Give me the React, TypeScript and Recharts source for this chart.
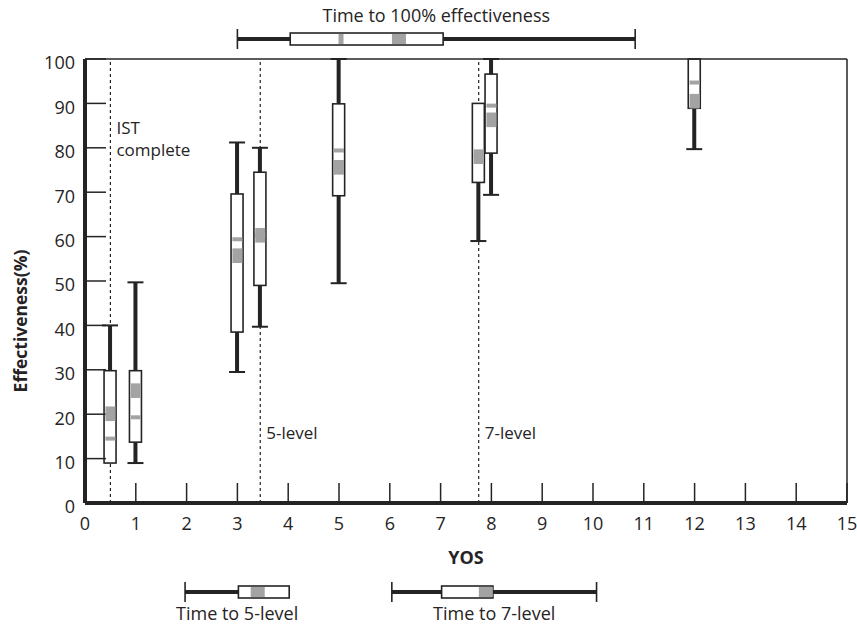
import React from 'react';
import * as R from 'recharts';

const { ComposedChart, XAxis, YAxis, Bar, Scatter, ReferenceLine, Label } = R as any;

const INK = '#262324';
const GREY = '#a3a3a3';
const FONT = '"Open Sans", "Noto Sans", sans-serif';

// axis ticks
const xTicks = [0, 1, 2, 3, 4, 5, 6, 7, 8, 9, 10, 11, 12, 13, 14, 15];
const yTicks = [0, 10, 20, 30, 40, 50, 60, 70, 80, 90, 100];

// vertical box plots (effectiveness by YOS)
const boxPositions = [0.5, 1, 3, 3.45, 5, 7.75, 8, 12];
const whiskerLow = [9, 9, 29.5, 39.7, 49.5, 59, 69.4, 79.7];
const boxLow = [9, 13.7, 38.5, 49, 69.2, 72.2, 78.8, 88.9];
const boxHigh = [29.8, 29.8, 69.6, 74.5, 89.9, 90, 96.6, 100];
const whiskerHigh = [40, 49.7, 81.2, 80, 100, 90, 100, 100];
const thinMark = [14.5, 19.3, 59.4, 60.3, 79.4, 78, 89.5, 94.7];
const thickMark = [20.1, 25.3, 55.7, 60.3, 75.6, 78, 86.3, 90.5];

// milestone reference lines
const milestoneX = [0.5, 3.45, 7.75];
const milestoneText = [['IST', 'complete'], ['5-level'], ['7-level']];

// horizontal "time to" box plots
const rowNames = ['Time to 100% effectiveness', 'Time to 5-level', 'Time to 7-level'];
const rowSide = ['top', 'bottom', 'bottom'];
const rowMin = [3.0, 1.97, 6.04];
const rowQ1 = [4.04, 3.02, 7.02];
const rowQ3 = [7.05, 4.02, 8.03];
const rowMax = [10.83, 4.02, 10.07];
const rowThin = [5.04, null, null];
const rowThick = [6.18, 3.4, 7.89];

const boxData = boxPositions.map((x, i) => ({
  x,
  whiskerLow: whiskerLow[i],
  boxLow: boxLow[i],
  boxHigh: boxHigh[i],
  whiskerHigh: whiskerHigh[i],
  thinMark: thinMark[i],
  thickMark: thickMark[i],
}));

const rows = rowNames.map((name, i) => ({
  name,
  side: rowSide[i],
  min: rowMin[i],
  q1: rowQ1[i],
  q3: rowQ3[i],
  max: rowMax[i],
  thin: rowThin[i],
  thick: rowThick[i],
}));

const WhiskerShape = (p: any) => {
  const { x, y, width, height, payload } = p;
  if (x == null || y == null) return null;
  const top = Math.min(y, y + height);
  const bot = Math.max(y, y + height);
  const cx = x + width / 2;
  return (
    <g>
      <rect x={cx - 2} y={top} width={4} height={bot - top} fill={INK} />
      {payload.whiskerHigh > payload.boxHigh && (
        <line x1={cx - 8} x2={cx + 8} y1={top} y2={top} stroke={INK} strokeWidth={2} />
      )}
      {payload.whiskerLow < payload.boxLow && (
        <line x1={cx - 8} x2={cx + 8} y1={bot} y2={bot} stroke={INK} strokeWidth={2} />
      )}
    </g>
  );
};

const BoxShape = (p: any) => {
  const { x, y, width, height } = p;
  if (x == null || y == null) return null;
  const top = Math.min(y, y + height);
  const bot = Math.max(y, y + height);
  return <rect x={x} y={top} width={width} height={bot - top} fill="#fff" stroke={INK} strokeWidth={1.6} />;
};

const ThickShape = (p: any) => {
  const { cx, cy } = p;
  if (cx == null || cy == null) return null;
  return <rect x={cx - 5} y={cy - 7.3} width={10} height={14.6} fill={GREY} />;
};

const ThinShape = (p: any) => {
  const { cx, cy } = p;
  if (cx == null || cy == null) return null;
  return <rect x={cx - 5} y={cy - 2} width={10} height={4} fill={GREY} />;
};

const XTick = (p: any) => (
  <text x={p.x} y={p.y} dy="0.71em" textAnchor="middle" fontSize={18} fill={INK} fontFamily={FONT}>
    {p.payload.value}
  </text>
);

const YTick = (p: any) => (
  <text x={p.x} y={p.y + 4} dy="0.35em" textAnchor="end" fontSize={18} fill={INK} fontFamily={FONT}>
    {p.payload.value}
  </text>
);

const makeMilestoneLabel = (lines: string[], atTop: boolean) => (props: any) => {
  const vb = props.viewBox || {};
  const x = (vb.x ?? 0) + 6;
  const y0 = atTop ? (vb.y ?? 0) + 75 : (vb.y ?? 0) + (vb.height ?? 0) - 64;
  return (
    <g>
      {lines.map((l, i) => (
        <text key={i} x={x} y={y0 + i * 22} fontSize={17} fill={INK} fontFamily={FONT}>
          {l}
        </text>
      ))}
    </g>
  );
};

const YLabel = (props: any) => {
  const vb = props.viewBox || {};
  const cy = (vb.y ?? 0) + (vb.height ?? 0) / 2 + 40;
  const x = 27;
  return (
    <text x={x} y={cy} transform={`rotate(-90 ${x} ${cy})`} textAnchor="middle" fontSize={17.5} fontWeight={700} fill={INK} fontFamily={FONT}>
      Effectiveness(%)
    </text>
  );
};

const useXScale = (R as any).useXAxisScale;
const usePlot = (R as any).usePlotArea;

function HBoxes() {
  const sc = useXScale('main');
  const plot = usePlot();
  if (typeof sc !== 'function' || !plot) return null;
  return (
    <g>
      {rows.map((r, i) => {
        const cy = r.side === 'top' ? plot.y - 20 : plot.y + plot.height + 89;
        const labelY = r.side === 'top' ? plot.y - 37 : plot.y + plot.height + 117;
        const xMin = sc(r.min);
        const xQ1 = sc(r.q1);
        const xQ3 = sc(r.q3);
        const xMax = sc(r.max);
        return (
          <g key={i}>
            <line x1={xMin} x2={xQ1} y1={cy} y2={cy} stroke={INK} strokeWidth={4} />
            {r.max > r.q3 && <line x1={xQ3} x2={xMax} y1={cy} y2={cy} stroke={INK} strokeWidth={4} />}
            <line x1={xMin} x2={xMin} y1={cy - 10} y2={cy + 10} stroke={INK} strokeWidth={1.6} />
            {r.max > r.q3 && <line x1={xMax} x2={xMax} y1={cy - 10} y2={cy + 10} stroke={INK} strokeWidth={1.6} />}
            <rect x={xQ1} y={cy - 6} width={xQ3 - xQ1} height={12} fill="#fff" stroke={INK} strokeWidth={1.6} />
            {r.thin != null && <rect x={sc(r.thin) - 2.5} y={cy - 5} width={5} height={10} fill={GREY} />}
            {r.thick != null && <rect x={sc(r.thick) - 7} y={cy - 5} width={14} height={10} fill={GREY} />}
            <text x={sc((r.min + r.max) / 2)} y={labelY} textAnchor="middle" fontSize={18} fill={INK} fontFamily={FONT}>
              {r.name}
            </text>
          </g>
        );
      })}
    </g>
  );
}

export default function App() {
  return (
    <div style={{ position: 'absolute', left: 0, top: 0, width: 857, height: 625, background: '#fff' }}>
      <ComposedChart width={857} height={625} data={boxData} margin={{ top: 59, right: 10, bottom: 62, left: 0 }}>
        <XAxis
          xAxisId="main"
          dataKey="x"
          type="number"
          domain={[0, 15]}
          ticks={xTicks}
          interval={0}
          height={60}
          tickSize={-20}
          tickMargin={34}
          axisLine={{ stroke: INK, strokeWidth: 4 }}
          tickLine={{ stroke: INK, strokeWidth: 1.5 }}
          tick={XTick}
        >
          <Label value="YOS" position="insideBottom" offset={-1} style={{ fontWeight: 700, fontSize: 18, fill: INK, fontFamily: FONT }} />
        </XAxis>
        <XAxis xAxisId="whisk" dataKey="x" type="number" domain={[0, 15]} height={0} hide />
        <XAxis xAxisId="box" dataKey="x" type="number" domain={[0, 15]} height={0} hide />
        <YAxis
          type="number"
          domain={[0, 100]}
          ticks={yTicks}
          interval={0}
          width={85}
          tickSize={-21}
          tickMargin={31}
          axisLine={{ stroke: INK, strokeWidth: 4 }}
          tickLine={{ stroke: INK, strokeWidth: 1.5 }}
          tick={YTick}
        >
          <Label content={YLabel} />
        </YAxis>
        <ReferenceLine xAxisId="main" y={100} stroke={INK} strokeWidth={1.5} />
        <ReferenceLine xAxisId="main" x={15} stroke={INK} strokeWidth={1.5} />
        {milestoneX.map((mx, i) => (
          <ReferenceLine
            key={i}
            xAxisId="main"
            x={mx}
            zIndex={-10}
            stroke={INK}
            strokeWidth={1.2}
            strokeDasharray="3 3"
            label={makeMilestoneLabel(milestoneText[i], i === 0)}
          />
        ))}
        <Bar xAxisId="whisk" dataKey={(d: any) => [d.whiskerLow, d.whiskerHigh]} barSize={4} shape={WhiskerShape} isAnimationActive={false} />
        <Bar xAxisId="box" dataKey={(d: any) => [d.boxLow, d.boxHigh]} barSize={12} shape={BoxShape} isAnimationActive={false} />
        <Scatter xAxisId="main" dataKey="thickMark" shape={ThickShape} isAnimationActive={false} />
        <Scatter xAxisId="main" dataKey="thinMark" shape={ThinShape} isAnimationActive={false} />
        <HBoxes />
      </ComposedChart>
    </div>
  );
}
